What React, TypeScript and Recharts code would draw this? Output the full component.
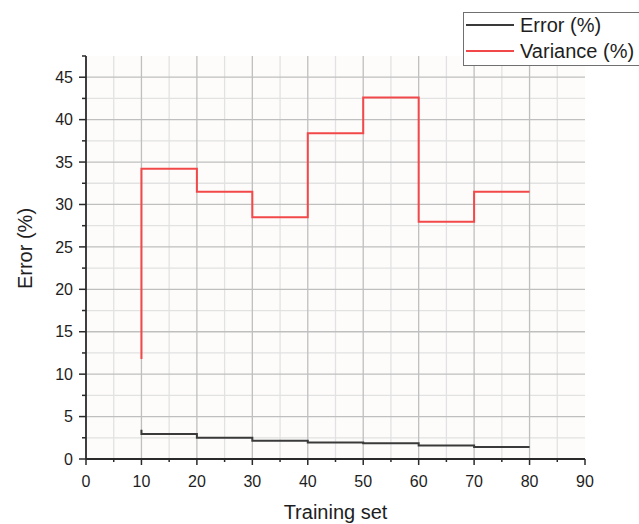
import React from 'react';
import { ComposedChart, Line, XAxis, YAxis, CartesianGrid, ReferenceLine, Legend } from 'recharts';

const trainingSet = [10, 20, 30, 40, 50, 60, 70, 80];
const errorPct = [3.45, 2.95, 2.5, 2.15, 1.95, 1.85, 1.6, 1.4];
const variancePct = [11.8, 34.2, 31.5, 28.5, 38.4, 42.6, 27.95, 31.5];

const xTicks = [0, 5, 10, 15, 20, 25, 30, 35, 40, 45, 50, 55, 60, 65, 70, 75, 80, 85, 90];
const xMajorLabels = [0, 10, 20, 30, 40, 50, 60, 70, 80, 90];
const yTicks = [0, 2.5, 5, 7.5, 10, 12.5, 15, 17.5, 20, 22.5, 25, 27.5, 30, 32.5, 35, 37.5, 40, 42.5, 45, 47.5];
const yMajorLabels = [0, 5, 10, 15, 20, 25, 30, 35, 40, 45];
const xGridMajor = [10, 20, 30, 40, 50, 60, 70, 80];
const xGridMinor = [5, 15, 25, 35, 45, 55, 65, 75, 85];
const yGridMajor = [5, 10, 15, 20, 25, 30, 35, 40, 45];
const yGridMinor = [2.5, 7.5, 12.5, 17.5, 22.5, 27.5, 32.5, 37.5, 42.5];

const data = trainingSet.map((x, i) => ({ x, error: errorPct[i], variance: variancePct[i] }));

const FONT = '"Liberation Sans", Arial, Helvetica, sans-serif';
const AXIS_COLOR = '#2a2a2a';
const TEXT_COLOR = '#1e1e1e';

const XTick = (props: any) => {
  const { x, y, payload } = props;
  const v = payload.value;
  const major = xMajorLabels.includes(v);
  return (
    <g>
      <line x1={x} x2={x} y1={y} y2={y + (major ? 6 : 3)} stroke={AXIS_COLOR} strokeWidth={1.5} />
      {major && (
        <text x={x} y={y + 27.5} textAnchor="middle" fontSize={16} fontFamily={FONT} fill={TEXT_COLOR}>
          {v}
        </text>
      )}
    </g>
  );
};

const YTick = (props: any) => {
  const { x, y, payload } = props;
  const v = payload.value;
  const major = yMajorLabels.includes(v);
  return (
    <g>
      <line x1={x} x2={x - (major ? 7 : 4)} y1={y} y2={y} stroke={AXIS_COLOR} strokeWidth={1.5} />
      {major && (
        <text x={x - 13} y={y} dy="0.36em" textAnchor="end" fontSize={16} fontFamily={FONT} fill={TEXT_COLOR}>
          {v}
        </text>
      )}
    </g>
  );
};

const renderLegend = (props: any) => {
  const payload = props.payload || [];
  return (
    <svg width={176} height={54} style={{ display: 'block' }}>
      <rect x={0.5} y={0.5} width={220} height={53} fill="#ffffff" stroke="#707070" strokeWidth={1} />
      {payload.map((p: any, i: number) => (
        <g key={i}>
          <line x1={3} x2={51} y1={13 + i * 26} y2={13 + i * 26} stroke={p.color} strokeWidth={2} />
          <text x={57} y={13 + i * 26} dy="0.36em" fontSize={20} fontFamily={FONT} fill={TEXT_COLOR}>
            {p.value}
          </text>
        </g>
      ))}
    </svg>
  );
};

export default function App() {
  return (
    <div style={{ position: 'absolute', left: 0, top: 0, width: 639, height: 524, background: '#ffffff' }}>
      <ComposedChart width={639} height={524} data={data} margin={{ top: 56, right: 54, bottom: 0, left: 0 }}>
        <CartesianGrid horizontal={false} vertical={false} fill="#fdfcfa" stroke="none" />
        {xGridMinor.map((v) => (
          <ReferenceLine key={'xm' + v} x={v} stroke="#e2e2e2" strokeWidth={1.3} />
        ))}
        {yGridMinor.map((v) => (
          <ReferenceLine key={'ym' + v} y={v} stroke="#e2e2e2" strokeWidth={1.3} />
        ))}
        {xGridMajor.map((v) => (
          <ReferenceLine key={'xM' + v} x={v} stroke="#bfbfbf" strokeWidth={1.3} />
        ))}
        {yGridMajor.map((v) => (
          <ReferenceLine key={'yM' + v} y={v} stroke="#bfbfbf" strokeWidth={1.3} />
        ))}
        <XAxis
          dataKey="x"
          type="number"
          domain={[0, 90]}
          ticks={xTicks}
          interval={0}
          height={65}
          tickSize={0}
          tickMargin={0}
          tickLine={false}
          tick={<XTick />}
          axisLine={{ stroke: AXIS_COLOR, strokeWidth: 1.8 }}
          label={{
            value: 'Training set',
            content: (p: any) => {
              const vb = p.viewBox || { x: 86, width: 499, y: 459 };
              return (
                <text x={vb.x + vb.width / 2} y={519} textAnchor="middle" fontSize={20} fontFamily={FONT} fill={TEXT_COLOR}>
                  Training set
                </text>
              );
            },
          }}
        />
        <YAxis
          type="number"
          domain={[0, 47.5]}
          ticks={yTicks}
          interval={0}
          width={86}
          tickSize={0}
          tickMargin={0}
          tickLine={false}
          tick={<YTick />}
          axisLine={{ stroke: AXIS_COLOR, strokeWidth: 1.8 }}
          label={{
            value: 'Error (%)',
            content: () => (
              <text
                x={31.5}
                y={248.5}
                textAnchor="middle"
                transform="rotate(-90, 31.5, 248.5)"
                fontSize={20}
                fontFamily={FONT}
                fill={TEXT_COLOR}
              >
                Error (%)
              </text>
            ),
          }}
        />
        <Legend
          layout="horizontal"
          verticalAlign="middle"
          align="center"
          wrapperStyle={{ position: 'absolute', left: 463, top: 12, width: 176, height: 54, overflow: 'hidden' }}
          content={renderLegend}
        />
        <Line
          type="stepBefore"
          dataKey="error"
          name="Error (%)"
          stroke="#3a3a3a"
          strokeWidth={2}
          dot={false}
          activeDot={false}
          isAnimationActive={false}
        />
        <Line
          type="stepBefore"
          dataKey="variance"
          name="Variance (%)"
          stroke="#f2484a"
          strokeWidth={2}
          dot={false}
          activeDot={false}
          isAnimationActive={false}
        />
      </ComposedChart>
    </div>
  );
}
